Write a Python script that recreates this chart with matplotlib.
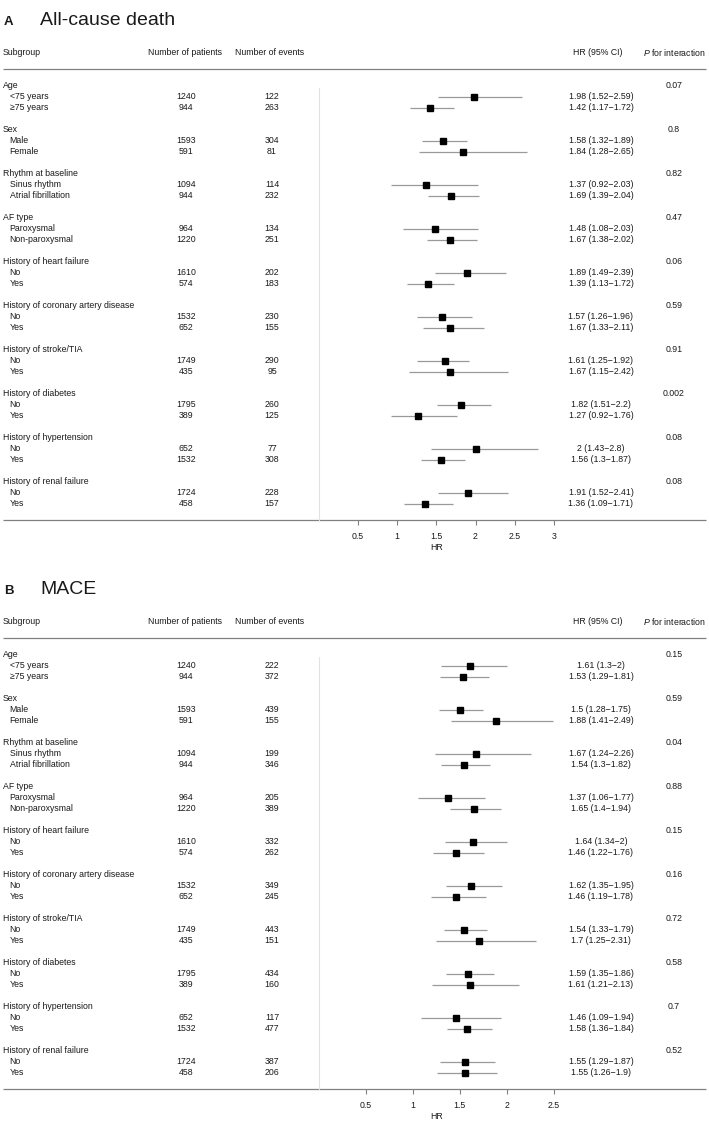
"""
Subgroup forest plots: all-cause death (A) and MACE (B).
"""

import matplotlib
matplotlib.use("Agg")
import matplotlib.pyplot as plt
from matplotlib import transforms

plt.rcParams["font.family"] = ["Liberation Sans", "DejaVu Sans"]
plt.rcParams["mathtext.fontset"] = "custom"
plt.rcParams["mathtext.rm"] = "Liberation Sans"
plt.rcParams["mathtext.it"] = "Liberation Sans:italic"

# ── Data ────────────────────────────────────────────────────

GROUPS = ["Age", "Sex", "Rhythm at baseline", "AF type",
          "History of heart failure", "History of coronary artery disease",
          "History of stroke/TIA", "History of diabetes",
          "History of hypertension", "History of renal failure"]
LEVELS = [["<75 years", "≥75 years"], ["Male", "Female"],
          ["Sinus rhythm", "Atrial fibrillation"], ["Paroxysmal", "Non-paroxysmal"],
          ["No", "Yes"], ["No", "Yes"], ["No", "Yes"], ["No", "Yes"],
          ["No", "Yes"], ["No", "Yes"]]
PATIENTS = [[1240, 944], [1593, 591], [1094, 944], [964, 1220], [1610, 574],
            [1532, 652], [1749, 435], [1795, 389], [652, 1532], [1724, 458]]

# All-cause death
A_EVENTS = [[122, 263], [304, 81], [114, 232], [134, 251], [202, 183],
            [230, 155], [290, 95], [260, 125], [77, 308], [228, 157]]
A_HR = [[1.98, 1.42], [1.58, 1.84], [1.37, 1.69], [1.48, 1.67], [1.89, 1.39],
        [1.57, 1.67], [1.61, 1.67], [1.82, 1.27], [2, 1.56], [1.91, 1.36]]
A_LO = [[1.52, 1.17], [1.32, 1.28], [0.92, 1.39], [1.08, 1.38], [1.49, 1.13],
        [1.26, 1.33], [1.25, 1.15], [1.51, 0.92], [1.43, 1.3], [1.52, 1.09]]
A_HI = [[2.59, 1.72], [1.89, 2.65], [2.03, 2.04], [2.03, 2.02], [2.39, 1.72],
        [1.96, 2.11], [1.92, 2.42], [2.2, 1.76], [2.8, 1.87], [2.41, 1.71]]
A_P = ["0.07", "0.8", "0.82", "0.47", "0.06", "0.59", "0.91", "0.002", "0.08", "0.08"]
A_TICKS = [0.5, 1, 1.5, 2, 2.5, 3]

# MACE
B_EVENTS = [[222, 372], [439, 155], [199, 346], [205, 389], [332, 262],
            [349, 245], [443, 151], [434, 160], [117, 477], [387, 206]]
B_HR = [[1.61, 1.53], [1.5, 1.88], [1.67, 1.54], [1.37, 1.65], [1.64, 1.46],
        [1.62, 1.46], [1.54, 1.7], [1.59, 1.61], [1.46, 1.58], [1.55, 1.55]]
B_LO = [[1.3, 1.29], [1.28, 1.41], [1.24, 1.3], [1.06, 1.4], [1.34, 1.22],
        [1.35, 1.19], [1.33, 1.25], [1.35, 1.21], [1.09, 1.36], [1.29, 1.26]]
B_HI = [[2, 1.81], [1.75, 2.49], [2.26, 1.82], [1.77, 1.94], [2, 1.76],
        [1.95, 1.78], [1.79, 2.31], [1.86, 2.13], [1.94, 1.84], [1.87, 1.9]]
B_P = ["0.15", "0.59", "0.04", "0.88", "0.15", "0.16", "0.72", "0.58", "0.7", "0.52"]
B_TICKS = [0.5, 1, 1.5, 2, 2.5]

# ── Layout (pixels) ─────────────────────────────────────────

W, H = 709, 1122
ROW = 11.0            # px per table row
FS = 6.3
TXT = "#1a1a1a"
LINE = "#808080"

fig = plt.figure(figsize=(W / 100, H / 100), dpi=100)


def fmt(v):
    return f"{v:g}"


def draw_panel(row0, letter, title, events, hr, lo, hi, pvals, ticks):
    top, bottom = 0.25, 39.5
    ax = fig.add_axes([318.5 / W, 1 - (row0 + bottom * ROW) / H,
                       (554 - 318.5) / W, (bottom - top) * ROW / H])
    ax.set_xlim(0, ticks[-1])
    ax.set_ylim(bottom, top)
    tr = transforms.blended_transform_factory(fig.transFigure, ax.transData)

    def put(px, row, s, **kw):
        kw.setdefault("fontsize", FS)
        kw.setdefault("color", TXT)
        kw.setdefault("va", "center")
        ax.text(px / W, row, s, transform=tr, **kw)

    # title
    put(4, -5.5, letter, fontsize=9.5, fontweight="bold", va="baseline")
    put(40, -5.5, title, fontsize=14, va="baseline")

    # header
    put(3, -3.0, "Subgroup")
    put(185, -3.0, "Number of patients", ha="center")
    put(270, -3.0, "Number of events", ha="center")
    put(598, -3.0, "HR (95% CI)", ha="center")
    put(674, -3.0, r"$\it{P}$ for interaction", ha="center")
    for yy in (-1.5, bottom):
        ax.plot([3 / W, 706 / W], [yy, yy], transform=tr, clip_on=False,
                color=LINE, lw=0.9, solid_capstyle="butt")

    for g, name in enumerate(GROUPS):
        base = 4 * g
        put(3, base, name)
        put(674, base, pvals[g], ha="center")
        for j in range(2):
            r = base + 1 + j
            put(9.5, r, LEVELS[g][j])
            put(186, r, str(PATIENTS[g][j]), ha="center")
            put(272, r, str(events[g][j]), ha="center")
            put(601, r, f"{fmt(hr[g][j])} ({fmt(lo[g][j])}\u2212{fmt(hi[g][j])})",
                ha="center")
            ax.hlines(r, lo[g][j], hi[g][j], color="#9a9a9a", lw=0.9, zorder=2)
            ax.plot(hr[g][j], r, "s", color="black", ms=5, zorder=3)

    for side in ("top", "right", "bottom"):
        ax.spines[side].set_visible(False)
    ax.spines["left"].set_color("#e2e2e2")
    ax.spines["left"].set_linewidth(0.8)
    ax.set_yticks([])
    ax.set_xticks(ticks)
    ax.set_xticklabels([fmt(t) for t in ticks])
    ax.tick_params(axis="x", length=3.5, width=0.8, color=LINE,
                   labelsize=FS, labelcolor=TXT, pad=5)
    ax.set_xlabel("HR", fontsize=FS, color=TXT, labelpad=1.5)
    ax.patch.set_visible(False)


draw_panel(85.7, "A", "All-cause death", A_EVENTS, A_HR, A_LO, A_HI, A_P, A_TICKS)
draw_panel(654.5, "B", "MACE", B_EVENTS, B_HR, B_LO, B_HI, B_P, B_TICKS)

fig.savefig("out.png", dpi=100)
